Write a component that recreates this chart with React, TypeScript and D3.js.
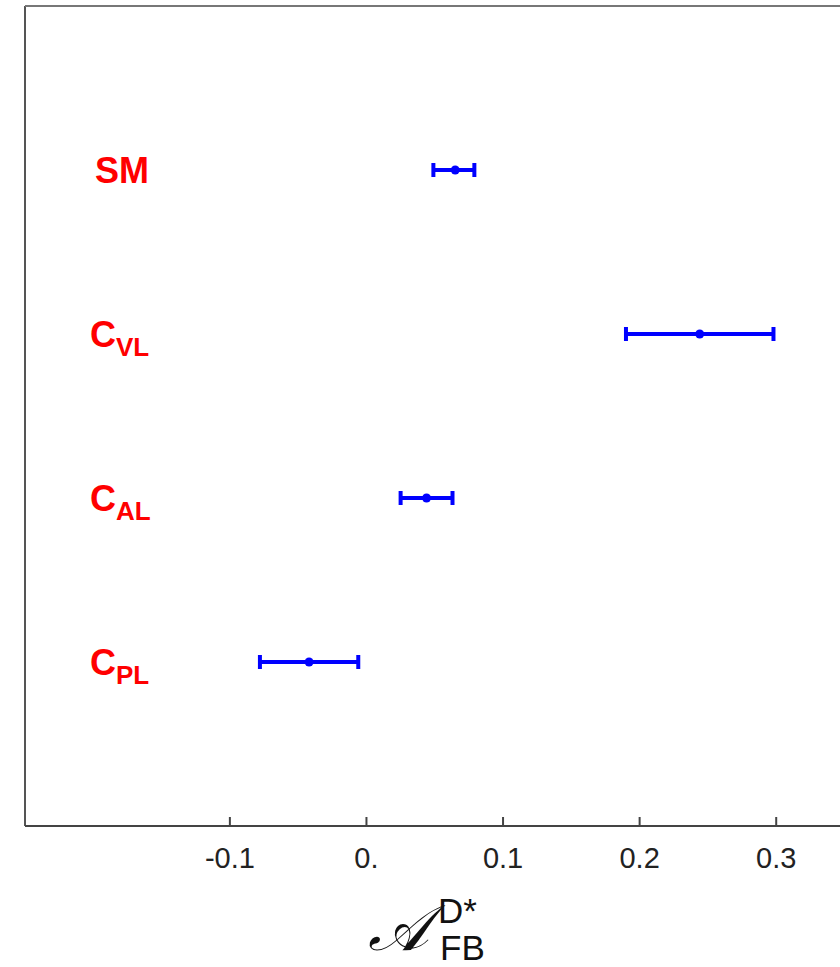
import React, { useEffect, useRef } from 'react';
import * as d3 from 'd3';

// categories from top to bottom, with subscript parts
const labelMain = ['SM', 'C', 'C', 'C'];
const labelSub = ['', 'VL', 'AL', 'PL'];
const rowPos = [4, 3, 2, 1];
// central values and error bar ends
const centers = [0.065, 0.244, 0.044, -0.042];
const lows = [0.049, 0.19, 0.025, -0.078];
const highs = [0.079, 0.298, 0.063, -0.006];
const tickValues = [-0.1, 0, 0.1, 0.2, 0.3];
const tickLabels = ['-0.1', '0.', '0.1', '0.2', '0.3'];

const App = () => {
  const ref = useRef<SVGSVGElement>(null);

  useEffect(() => {
    const svg = d3.select(ref.current);
    svg.selectAll('*').remove();

    const x = d3.scaleLinear().domain([-0.25, 0.35]).range([25, 844.5]);
    const y = d3.scaleLinear().domain([0, 5]).range([826, 6]);

    // frame
    const frame = svg.append('g').attr('stroke', '#555').attr('stroke-width', 2).attr('fill', 'none');
    frame.append('line').attr('x1', x(-0.25)).attr('x2', x(-0.25)).attr('y1', y(5)).attr('y2', y(0));
    frame.append('line').attr('x1', x(-0.25)).attr('x2', 845).attr('y1', y(5)).attr('y2', y(5)).attr('stroke', '#777');
    frame.append('line').attr('x1', x(-0.25)).attr('x2', 845).attr('y1', y(0)).attr('y2', y(0)).attr('stroke', '#444');

    // ticks
    svg.append('g').selectAll('line').data(tickValues).join('line')
      .attr('x1', d => x(d)).attr('x2', d => x(d))
      .attr('y1', y(0)).attr('y2', y(0) - 9)
      .attr('stroke', '#444').attr('stroke-width', 2);

    svg.append('g').selectAll('text').data(tickValues).join('text')
      .attr('x', d => x(d)).attr('y', y(0) + 42)
      .attr('text-anchor', 'middle')
      .attr('font-family', 'Liberation Sans, Arial, sans-serif')
      .attr('font-size', 29)
      .attr('fill', '#222')
      .text((d, i) => tickLabels[i]);

    // error bars
    const bars = svg.append('g').attr('stroke', '#0000ff').attr('fill', '#0000ff');
    centers.forEach((c, i) => {
      const yy = y(rowPos[i]);
      bars.append('line').attr('x1', x(lows[i])).attr('x2', x(highs[i])).attr('y1', yy).attr('y2', yy).attr('stroke-width', 4);
      [lows[i], highs[i]].forEach(v => {
        bars.append('line').attr('x1', x(v)).attr('x2', x(v)).attr('y1', yy - 7).attr('y2', yy + 7).attr('stroke-width', 4);
      });
      bars.append('circle').attr('cx', x(c)).attr('cy', yy).attr('r', 4.5).attr('stroke', 'none');
    });

    // category labels
    const labels = svg.append('g')
      .attr('font-family', 'Liberation Sans, Arial, sans-serif')
      .attr('font-weight', 'bold')
      .attr('fill', '#ff0000');
    labelMain.forEach((m, i) => {
      const t = labels.append('text')
        .attr('x', labelSub[i] ? 90 : 95)
        .attr('y', y(rowPos[i]) + 13)
        .attr('font-size', 36);
      t.append('tspan').text(m);
      if (labelSub[i]) t.append('tspan').attr('font-size', 26).attr('dy', 9).text(labelSub[i]);
    });

    // axis title
    const title = svg.append('g').attr('fill', '#111');
    title.append('text').attr('x', 368).attr('y', 950)
      .attr('font-family', 'DejaVu Serif, serif').attr('font-style', 'italic').attr('font-size', 64)
      .text('𝒜');
    title.append('text').attr('x', 438).attr('y', 923)
      .attr('font-family', 'Liberation Sans, Arial, sans-serif').attr('font-size', 35)
      .text('D*');
    title.append('text').attr('x', 440).attr('y', 960)
      .attr('font-family', 'Liberation Sans, Arial, sans-serif').attr('font-size', 35)
      .text('FB');
  }, []);

  return (
    <svg ref={ref} width={840} height={967}
      style={{ position: 'absolute', left: 0, top: 0, background: '#fff' }} />
  );
};

export default App;
